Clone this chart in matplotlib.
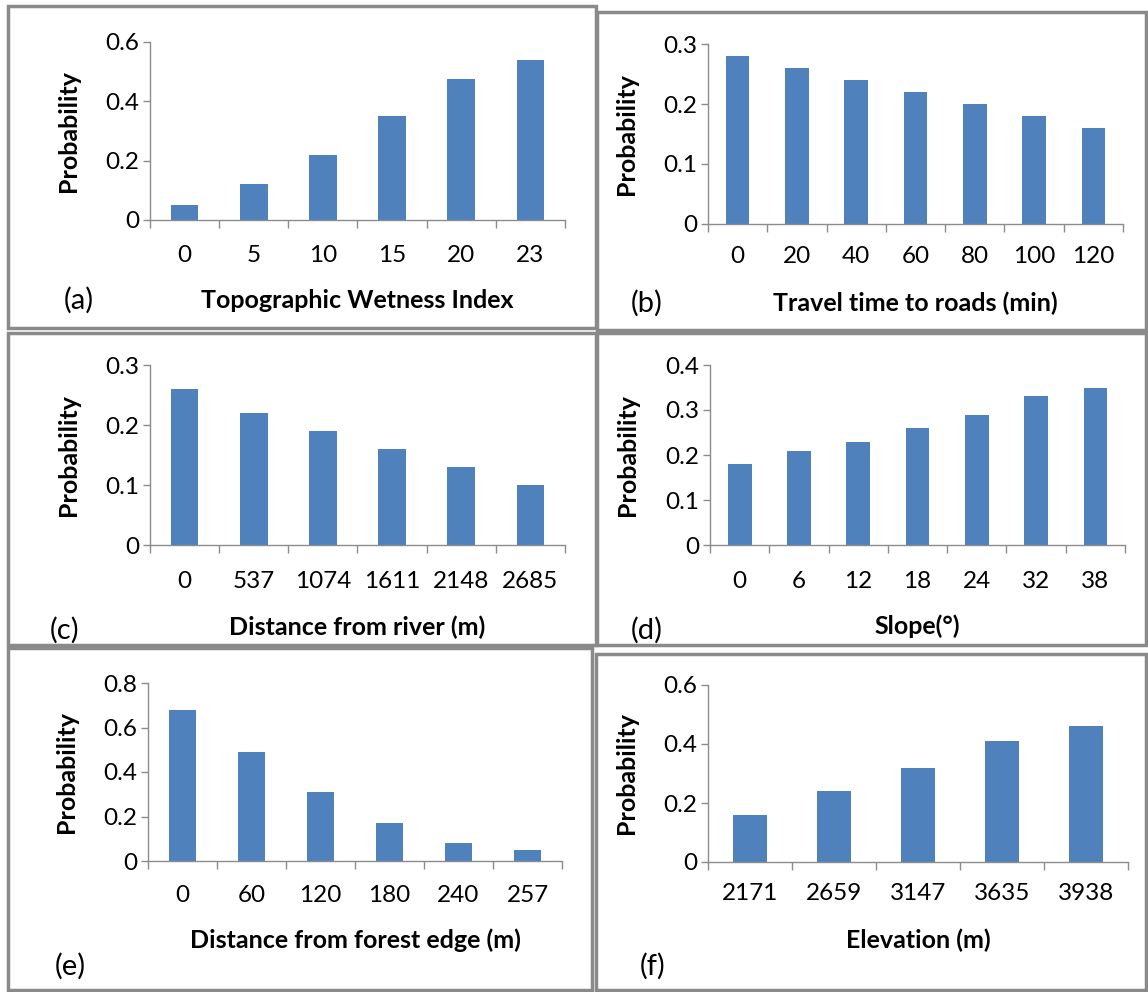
import matplotlib.pyplot as plt
from matplotlib.patches import Rectangle

plt.rcParams['font.family'] = ['Lato', 'DejaVu Sans']

W, H = 1148, 992
BAR_COLOR = "#4F81BD"
AXIS_GRAY = "#8C8C8C"
BOX_GRAY = "#8A8A8A"
TICK_FS = 17.5
LABEL_FS = 18
LETTER_FS = 21

# ---- data -------------------------------------------------------------
twi_cats = ["0", "5", "10", "15", "20", "23"]
twi_prob = [0.05, 0.12, 0.22, 0.35, 0.475, 0.54]

travel_cats = ["0", "20", "40", "60", "80", "100", "120"]
travel_prob = [0.28, 0.26, 0.24, 0.22, 0.20, 0.18, 0.16]

river_cats = ["0", "537", "1074", "1611", "2148", "2685"]
river_prob = [0.26, 0.22, 0.19, 0.16, 0.13, 0.10]

slope_cats = ["0", "6", "12", "18", "24", "32", "38"]
slope_prob = [0.18, 0.21, 0.23, 0.26, 0.29, 0.33, 0.35]

forest_cats = ["0", "60", "120", "180", "240", "257"]
forest_prob = [0.68, 0.49, 0.31, 0.17, 0.08, 0.05]

elev_cats = ["2171", "2659", "3147", "3635", "3938"]
elev_prob = [0.16, 0.24, 0.32, 0.41, 0.46]

# ---- panel layout (pixels) -------------------------------------------
# axes box: left, right, y of top tick, y of zero; frame: l, t, r, b
panels = [
    dict(cats=twi_cats, vals=twi_prob, ymax=0.6, step=0.2, letter="(a)",
         xlabel="Topographic Wetness Index",
         ax=(150, 565, 42, 220), frame=(8, 6, 596, 328),
         tick_y=257, xlab_y=300, let_x=79, let_y=300),
    dict(cats=travel_cats, vals=travel_prob, ymax=0.3, step=0.1, letter="(b)",
         xlabel="Travel time to roads (min)",
         ax=(708, 1123, 44, 224), frame=(597, 12, 1146, 330),
         tick_y=258, xlab_y=303, let_x=647, let_y=303),
    dict(cats=river_cats, vals=river_prob, ymax=0.3, step=0.1, letter="(c)",
         xlabel="Distance from river (m)",
         ax=(150, 565, 365, 545), frame=(8, 333, 596, 645),
         tick_y=583, xlab_y=627, let_x=65, let_y=630),
    dict(cats=slope_cats, vals=slope_prob, ymax=0.4, step=0.1, letter="(d)",
         xlabel="Slope(°)",
         ax=(710, 1125, 365, 545), frame=(597, 333, 1146, 645),
         tick_y=583, xlab_y=626, let_x=647, let_y=630),
    dict(cats=forest_cats, vals=forest_prob, ymax=0.8, step=0.2, letter="(e)",
         xlabel="Distance from forest edge (m)",
         ax=(148, 562, 683, 861), frame=(8, 648, 592, 990),
         tick_y=897, xlab_y=940, let_x=70, let_y=966),
    dict(cats=elev_cats, vals=elev_prob, ymax=0.6, step=0.2, letter="(f)",
         xlabel="Elevation (m)",
         ax=(708, 1128, 685, 862), frame=(596, 654, 1146, 990),
         tick_y=895, xlab_y=940, let_x=653, let_y=966),
]

fig = plt.figure(figsize=(W / 100, H / 100), dpi=100)
fig.patch.set_facecolor("white")

for p in panels:
    l, t, r, b = p["frame"]
    fig.patches.append(Rectangle((l / W, 1 - b / H), (r - l) / W, (b - t) / H,
                                 transform=fig.transFigure, fill=False,
                                 edgecolor=BOX_GRAY, linewidth=2.5))

    x0, x1, ytop, yzero = p["ax"]
    ax = fig.add_axes([x0 / W, 1 - yzero / H, (x1 - x0) / W, (yzero - ytop) / H])
    n = len(p["cats"])
    ax.bar(range(n), p["vals"], width=0.4, color=BAR_COLOR)
    ax.set_xlim(-0.5, n - 0.5)
    ax.set_ylim(0, p["ymax"])

    nt = int(round(p["ymax"] / p["step"]))
    yt = [i * p["step"] for i in range(nt + 1)]
    ax.set_yticks(yt)
    ax.set_yticklabels(["0"] + [f"{v:.1f}" for v in yt[1:]], fontsize=TICK_FS)

    ax.set_xticks(range(n))
    ax.set_xticklabels(p["cats"], fontsize=TICK_FS)
    ax.set_xticks([i - 0.5 for i in range(n + 1)], minor=True)
    ax.tick_params(axis="x", which="major", length=0,
                   pad=(p["tick_y"] - yzero - 12) * 0.72)
    ax.tick_params(axis="x", which="minor", length=6, color=AXIS_GRAY, width=1)
    ax.tick_params(axis="y", length=5, color=AXIS_GRAY, width=1, pad=3)

    for side in ("top", "right"):
        ax.spines[side].set_visible(False)
    for side in ("left", "bottom"):
        ax.spines[side].set_color(AXIS_GRAY)
        ax.spines[side].set_linewidth(1)

    fig.text(68 / W + (x0 - 150) / W, 1 - (ytop + yzero) / 2 / H, "Probability",
             rotation=90, ha="center", va="center", fontsize=LABEL_FS,
             fontweight="bold")
    fig.text((x0 + x1) / 2 / W, 1 - p["xlab_y"] / H, p["xlabel"],
             ha="center", va="center", fontsize=LABEL_FS, fontweight="bold")
    fig.text(p["let_x"] / W, 1 - p["let_y"] / H, p["letter"],
             ha="center", va="center", fontsize=LETTER_FS)

fig.savefig("out.png", dpi=100, facecolor="white")
